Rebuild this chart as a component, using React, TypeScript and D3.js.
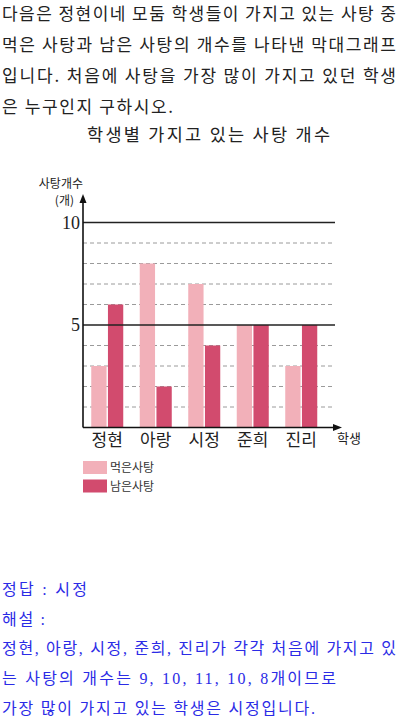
import React from "react";
import * as d3 from "d3";

const questionLines = [
  "다음은 정현이네 모둠 학생들이 가지고 있는 사탕 중",
  "먹은 사탕과 남은 사탕의 개수를 나타낸 막대그래프",
  "입니다. 처음에 사탕을 가장 많이 가지고 있던 학생",
  "은 누구인지 구하시오.",
];
const chartTitle = "학생별 가지고 있는 사탕 개수";
const students = ["정현", "아랑", "시정", "준희", "진리"];
const eaten = [3, 8, 7, 5, 3];
const remaining = [6, 2, 4, 5, 5];
const yTicks = [5, 10];
const gridValues = [1, 2, 3, 4, 6, 7, 8, 9];
const seriesNames = ["먹은사탕", "남은사탕"];
const answerLines = [
  "정답 : 시정",
  "해설 :",
  "정현, 아랑, 시정, 준희, 진리가 각각 처음에 가지고 있",
  "는 사탕의 개수는 9,  10,  11,  10,  8개이므로",
  "가장 많이 가지고 있는 학생은 시정입니다.",
];

const KR = "'Noto Sans CJK KR', sans-serif";
const KRS = "'Liberation Serif', 'Noto Sans CJK KR', serif";
const C_EATEN = "#f2b0b9";
const C_REM = "#d24b6e";
const questionWidths = [394, 394, 394, 171];
const answerWidths = [85, 43, 394, 334, 313];

export default function App() {
  const x = d3.scaleBand<string>().domain(students).range([83, 325.5]).padding(0);
  const y = d3.scaleLinear().domain([0, 10]).range([427.5, 222.5]);
  const axisX = 83;
  const gridEnd = 335;

  return (
    <svg
      width={400}
      height={718}
      style={{ position: "absolute", left: 0, top: 0, background: "#fff" }}
    >
      {questionLines.map((t, i) => (
        <text
          key={i}
          x={2}
          y={20 + i * 31}
          fontFamily={KR}
          fontSize={17}
          fill="#222"
          textLength={questionWidths[i]}
          lengthAdjust="spacing"
        >
          {t}
        </text>
      ))}
      <text
        x={87}
        y={141}
        fontFamily={KR}
        fontSize={17.5}
        fill="#222"
        textLength={243}
        lengthAdjust="spacing"
      >
        {chartTitle}
      </text>

      {/* y axis label */}
      <text x={83} y={188} textAnchor="end" fontFamily={KR} fontSize={12} fill="#222">
        사탕개수
      </text>
      <text x={74} y={205} textAnchor="end" fontFamily={KR} fontSize={12} fill="#222">
        (개)
      </text>

      {/* dashed grid */}
      {gridValues.map((v) => (
        <line
          key={v}
          x1={axisX}
          x2={gridEnd}
          y1={y(v)}
          y2={y(v)}
          stroke="#9a9a9a"
          strokeWidth={1}
          strokeDasharray="4,3"
        />
      ))}

      {/* bars */}
      {students.map((s, i) => {
        const c = (x(s) as number) + x.bandwidth() / 2;
        return (
          <g key={s}>
            <rect x={c - 16} width={15.3} y={y(eaten[i])} height={y(0) - y(eaten[i])} fill={C_EATEN} />
            <rect x={c + 0.7} width={15.3} y={y(remaining[i])} height={y(0) - y(remaining[i])} fill={C_REM} />
            <text x={c} y={446} textAnchor="middle" fontFamily={KR} fontSize={17} fill="#222">
              {s}
            </text>
          </g>
        );
      })}

      {/* solid lines */}
      {yTicks.map((v) => (
        <g key={v}>
          <line x1={axisX} x2={gridEnd} y1={y(v)} y2={y(v)} stroke="#222" strokeWidth={1.6} />
          <text
            x={80}
            y={y(v) + 6}
            textAnchor="end"
            fontFamily={KRS}
            fontSize={18}
            fill="#222"
          >
            {v}
          </text>
        </g>
      ))}

      {/* axes */}
      <line x1={axisX} x2={axisX} y1={y(0)} y2={200} stroke="#111" strokeWidth={1.6} />
      <path d={`M${axisX},194 L${axisX - 3.5},203 L${axisX + 3.5},203 Z`} fill="#111" />
      <line x1={axisX} x2={336} y1={y(0)} y2={y(0)} stroke="#111" strokeWidth={1.6} />
      <path d={`M342,${y(0)} L333,${y(0) - 3.5} L333,${y(0) + 3.5} Z`} fill="#111" />
      <text x={337} y={443} fontFamily={KR} fontSize={13} fill="#222">
        학생
      </text>

      {/* legend */}
      {seriesNames.map((n, i) => (
        <g key={n}>
          <rect x={83} y={461 + i * 18.5} width={24} height={13} fill={i === 0 ? C_EATEN : C_REM} />
          <text x={110} y={472 + i * 18.5} fontFamily={KR} fontSize={12} fill="#333">
            {n}
          </text>
        </g>
      ))}

      {answerLines.map((t, i) => (
        <text
          key={i}
          x={2}
          y={595 + i * 29.7}
          fontFamily={KRS}
          fontSize={16}
          fill="#2b2be6"
          textLength={answerWidths[i]}
          lengthAdjust="spacing"
        >
          {t}
        </text>
      ))}
    </svg>
  );
}
